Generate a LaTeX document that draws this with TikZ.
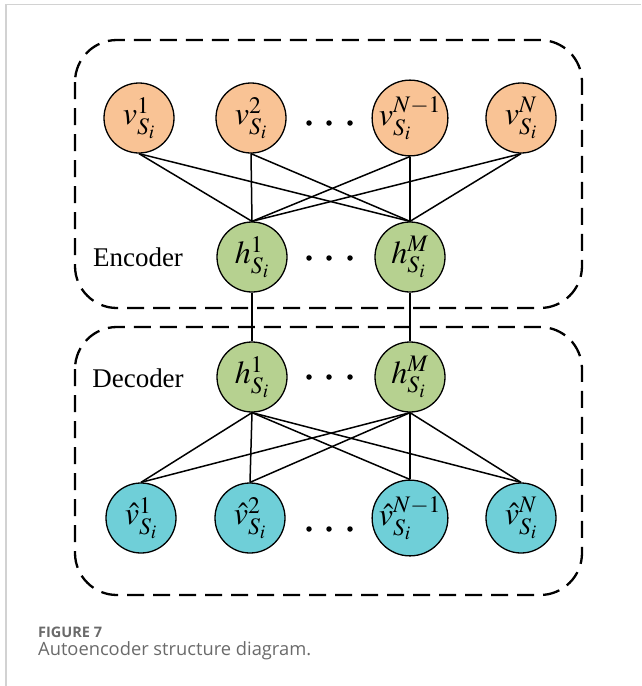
\documentclass[tikz,border=0pt]{standalone}
\usepackage{mathptmx}
\usepackage{fontspec}
\setmainfont{Liberation Serif}
\newfontfamily\capfont{Open Sans}
\definecolor{vorange}{HTML}{F9C395}
\definecolor{hgreen}{HTML}{B6D190}
\definecolor{vcyan}{HTML}{6FCFD8}
\definecolor{framegrey}{HTML}{D2D2D2}
\definecolor{capgrey}{HTML}{6A6A6A}
\tikzset{
  neuron/.style={circle,draw=black,line width=1.3pt,minimum size=70pt,inner sep=0pt,
    font=\fontsize{32}{36}\selectfont},
  vin/.style={neuron,fill=vorange},
  hid/.style={neuron,fill=hgreen},
  vout/.style={neuron,fill=vcyan},
  conn/.style={line width=1.5pt,black},
  groupbox/.style={draw=black,line width=2.3pt,dash pattern=on 17pt off 9pt,rounded corners=42pt},
  dotmark/.style={circle,fill=black,inner sep=0pt,minimum size=5.5pt},
  lbl/.style={font=\fontsize{27}{30}\selectfont,anchor=center},
}
\begin{document}
\begin{tikzpicture}[x=1pt,y=-1pt]
\useasboundingbox (0,0) rectangle (641,686);
% card frame
\draw[framegrey,line width=1.5pt] (6,686) -- (6,4.5) -- (641,4.5);
% group boxes
\draw[groupbox] (75,40) rectangle (582,308);
\draw[groupbox] (75,327) rectangle (582,595);
% input layer
\node[vin] (v1) at (139,118) {$v_{S_i}^{1}$};
\node[vin] (v2) at (251,118) {$v_{S_i}^{2}$};
\node[vin] (v3) at (410,118) {$v_{S_i}^{N-1}$};
\node[vin] (v4) at (521,118) {$v_{S_i}^{N}$};
% encoder hidden
\node[hid] (h1) at (252,257) {$h_{S_i}^{1}$};
\node[hid] (h2) at (410,257) {$h_{S_i}^{M}$};
% decoder hidden
\node[hid] (g1) at (252,377) {$h_{S_i}^{1}$};
\node[hid] (g2) at (410,377) {$h_{S_i}^{M}$};
% output layer
\node[vout] (o1) at (141,518) {$\hat{v}_{S_i}^{1}$};
\node[vout] (o2) at (250,518) {$\hat{v}_{S_i}^{2}$};
\node[vout] (o3) at (410,518) {$\hat{v}_{S_i}^{N-1}$};
\node[vout] (o4) at (521,518) {$\hat{v}_{S_i}^{N}$};
% dots
\foreach \x [count=\k] in {309,329,350}{
  \node[dotmark] (da\k) at (\x,123) {};
  \node[dotmark] (db\k) at (\x,258) {};
  \node[dotmark] (dc\k) at (\x,377) {};
  \node[dotmark] (dd\k) at (\x,529) {};
}
% labels
\node[lbl] (enc) at (138,257) {Encoder};
\node[lbl] (dec) at (138,378) {Decoder};
% connections
\foreach \a in {v1,v2,v3,v4}{
  \foreach \b in {h1,h2}{
    \draw[conn] (\a.south) -- (\b.north);
  }
}
\draw[conn] (h1.south) -- (g1.north);
\draw[conn] (h2.south) -- (g2.north);
\foreach \a in {g1,g2}{
  \foreach \b in {o1,o2,o3,o4}{
    \draw[conn] (\a.south) -- (\b.north);
  }
}
% caption
\node[anchor=west,font=\capfont\fontsize{14.5}{17}\selectfont\bfseries,text=capgrey,inner sep=0pt] (cap1) at (38,632) {FIGURE 7};
\node[anchor=west,font=\capfont\fontsize{18.3}{21}\selectfont,text=capgrey,inner sep=0pt] (cap2) at (38,651) {Autoencoder structure diagram.};
\end{tikzpicture}
\end{document}
